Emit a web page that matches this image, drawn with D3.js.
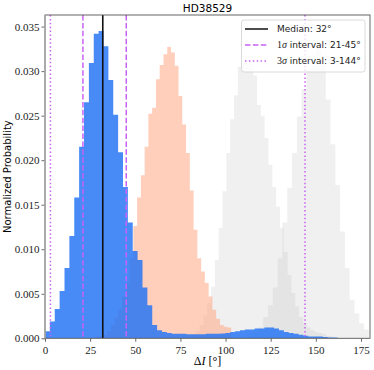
<!DOCTYPE html>
<html>
<head>
<meta charset="utf-8">
<script src="https://cdn.jsdelivr.net/npm/d3@7"></script>
<style>
  html, body { margin: 0; padding: 0; background: #fff; }
  svg { display: block; }
</style>
</head>
<body>
<svg id="chart" width="374" height="370"></svg>
<script>
// ---------------- DATA ----------------

// main posterior of ΔI - blue
const blueStart = 0;
const blueWidth = 2.7;
const blueHeights = [
  0.0008, 0.0019, 0.0033, 0.0053, 0.0079, 0.0115, 0.0158, 0.0215, 0.0265, 0.0309,
  0.0342, 0.0345, 0.0328, 0.0290, 0.0251, 0.0209, 0.0170, 0.0130, 0.0098, 0.0088,
  0.0057, 0.0037, 0.0015, 0.0009, 0.0007, 0.0006, 0.0005, 0.0005, 0.0005, 0.00045,
  0.00045, 0.00045, 0.00045, 0.0005, 0.0005, 0.0005, 0.00055, 0.0006, 0.0007, 0.0008,
  0.0009, 0.0010, 0.0010, 0.0011, 0.0011, 0.0012, 0.0012, 0.0011, 0.0009, 0.0007,
  0.0006, 0.0005, 0.0004, 0.0003, 0.0002, 0.0002, 0.0002, 0.00015, 0.0001, 0.0001
];

// second solution - salmon
const salmonStart = 26.0;
const salmonWidth = 2.085;
const salmonHeights = [
  0.0001, 0.0002, 0.0003, 0.0004, 0.00075, 0.0015, 0.0023, 0.0033, 0.0047, 0.0062,
  0.0090, 0.0126, 0.0158, 0.0183, 0.0215, 0.0252, 0.0259, 0.0291, 0.0307, 0.0319,
  0.0327, 0.0321, 0.0306, 0.0272, 0.0240, 0.0208, 0.0166, 0.0122, 0.0090, 0.0075,
  0.0062, 0.0047, 0.0032, 0.0022, 0.0015, 0.0013, 0.0012
];

// grey solutions
const greyAStart = 79.25;
const greyAWidth = 2.12;
const greyAHeights = [
  0.0002, 0.0004, 0.0008, 0.0015, 0.0026, 0.0040, 0.0058, 0.0088, 0.0124, 0.0165,
  0.0208, 0.0246, 0.0273, 0.0305, 0.0312, 0.0313, 0.0308, 0.0295, 0.0262, 0.0250,
  0.0225, 0.0195, 0.0170, 0.0148, 0.0124, 0.0097, 0.0071, 0.0051, 0.0036, 0.0024,
  0.0017, 0.0012, 0.0009, 0.0007, 0.0006, 0.0005, 0.0003, 0.0002
];

const greyBStart = 112.9;
const greyBWidth = 2.66;
const greyBHeights = [
  0.0003, 0.0006, 0.0012, 0.0024, 0.0037, 0.0057, 0.0090, 0.0130, 0.0169, 0.0208,
  0.0249, 0.0280, 0.0302, 0.0318, 0.0330, 0.0318, 0.0268, 0.0218, 0.0172, 0.0120,
  0.0079, 0.0043, 0.0028, 0.0017, 0.0010
];

// summary lines
const median = 32;
const sigma1 = [21, 45];
const sigma3 = [3, 144];

const xTicks = [0, 25, 50, 75, 100, 125, 150, 175];
const yTicks = [0, 0.005, 0.01, 0.015, 0.02, 0.025, 0.03, 0.035];

const legendLabels = ['Median: 32°', ' interval: 21-45°', ' interval: 3-144°'];
const legendSigma = ['', '1', '3'];

// ---------------- SCALES ----------------

const svg = d3.select('#chart');
const mLeft = 45, mRight = 370, mTop = 15, mBottom = 338.3;

const x = d3.scaleLinear().domain([0, 180]).range([mLeft, mRight]);
const y = d3.scaleLinear().domain([0, 0.0363]).range([mBottom, mTop]);

const serif = "'Liberation Serif', 'DejaVu Serif', serif";
const sans = "'DejaVu Sans', sans-serif";
const lineColor = '#c861f5';

svg.append('clipPath').attr('id', 'plot')
  .append('rect').attr('x', mLeft).attr('y', mTop)
  .attr('width', mRight - mLeft).attr('height', mBottom - mTop);

const g = svg.append('g').attr('clip-path', 'url(#plot)');

// histogram drawn as one stepped area, so neighbouring bins leave no seams
const stepArea = d3.area()
  .x((d) => x(d[0]))
  .y0(y(0))
  .y1((d) => y(d[1]))
  .curve(d3.curveStepAfter);

function drawHist(start, width, heights, fill, opacity) {
  const pts = heights.map((h, i) => [start + i * width, h]);
  pts.push([start + heights.length * width, heights[heights.length - 1]]);
  g.append('path')
    .datum(pts)
    .attr('d', stepArea)
    .attr('fill', fill)
    .attr('fill-opacity', opacity);
}

drawHist(greyAStart, greyAWidth, greyAHeights, '#b4b4b4', 0.2);
drawHist(greyBStart, greyBWidth, greyBHeights, '#b4b4b4', 0.2);
drawHist(salmonStart, salmonWidth, salmonHeights, '#ffa07a', 0.5);
drawHist(blueStart, blueWidth, blueHeights, 'rgb(40,118,244)', 0.85);

// vertical summary lines
function vline(v, color, dash, w) {
  g.append('line')
    .attr('x1', x(v)).attr('x2', x(v))
    .attr('y1', mTop).attr('y2', mBottom)
    .attr('stroke', color)
    .attr('stroke-width', w)
    .attr('stroke-dasharray', dash);
}

vline(median, '#111', null, 1.6);
sigma1.forEach((v) => vline(v, lineColor, '5.5,2.4', 1.5));
sigma3.forEach((v) => vline(v, lineColor, '1.5,2.4', 1.5));

// ---------------- AXES ----------------

const xAxis = svg.append('g')
  .attr('transform', `translate(0,${mBottom})`)
  .call(d3.axisBottom(x).tickValues(xTicks).tickSize(3.5).tickPadding(2).tickFormat(d3.format('d')));

const yAxis = svg.append('g')
  .attr('transform', `translate(${mLeft},0)`)
  .call(d3.axisLeft(y).tickValues(yTicks).tickSize(3.5).tickPadding(2).tickFormat(d3.format('.3f')));

[xAxis, yAxis].forEach((a) => {
  a.select('.domain').remove();
  a.selectAll('line').attr('stroke', '#444').attr('stroke-width', 0.8);
  a.selectAll('text')
    .attr('font-family', serif)
    .attr('font-size', 11)
    .attr('fill', '#222');
});
xAxis.selectAll('text').attr('dy', '0.95em');

// spines
svg.append('rect')
  .attr('x', mLeft).attr('y', mTop)
  .attr('width', mRight - mLeft).attr('height', mBottom - mTop)
  .attr('fill', 'none').attr('stroke', '#555').attr('stroke-width', 0.9);
svg.append('line')
  .attr('x1', mLeft).attr('x2', mLeft).attr('y1', mTop).attr('y2', mBottom)
  .attr('stroke', '#aaa').attr('stroke-width', 1.6);

// ---------------- TEXT ----------------

svg.append('text')
  .attr('x', (mLeft + mRight) / 2).attr('y', 12)
  .attr('text-anchor', 'middle')
  .attr('font-family', sans).attr('font-size', 10.5)
  .text('HD38529');

svg.append('text')
  .attr('transform', `translate(11,${(mTop + mBottom) / 2}) rotate(-90)`)
  .attr('text-anchor', 'middle')
  .attr('font-family', sans).attr('font-size', 10)
  .text('Normalized Probability');

const xl = svg.append('text')
  .attr('x', (mLeft + mRight) / 2).attr('y', 365)
  .attr('text-anchor', 'middle')
  .attr('font-family', serif).attr('font-size', 12);
xl.append('tspan').text('Δ');
xl.append('tspan').attr('font-style', 'italic').text('I');
xl.append('tspan').text(' [°]');

// ---------------- LEGEND ----------------

const lg = svg.append('g');
lg.append('rect')
  .attr('x', 241.5).attr('y', 20)
  .attr('width', 123.5).attr('height', 52)
  .attr('rx', 2.5)
  .attr('fill', '#fff').attr('fill-opacity', 0.8)
  .attr('stroke', '#d0d0d0').attr('stroke-width', 0.8);

const rowY = d3.scaleLinear().domain([0, 2]).range([29, 61]);
const sampleStyle = [
  { color: '#111', dash: null },
  { color: lineColor, dash: '5.5,2.4' },
  { color: lineColor, dash: '1.5,2.4' }
];

legendLabels.forEach((label, i) => {
  lg.append('line')
    .attr('x1', 245).attr('x2', 268)
    .attr('y1', rowY(i)).attr('y2', rowY(i))
    .attr('stroke', sampleStyle[i].color)
    .attr('stroke-width', 1.5)
    .attr('stroke-dasharray', sampleStyle[i].dash);
  const t = lg.append('text')
    .attr('x', 277).attr('y', rowY(i) + 3.3)
    .attr('font-family', sans).attr('font-size', 9)
    .attr('fill', '#222');
  if (legendSigma[i]) {
    t.append('tspan').attr('font-family', serif).attr('font-size', 10).text(legendSigma[i]);
    t.append('tspan').attr('font-family', serif).attr('font-style', 'italic').attr('font-size', 10).text('σ');
  }
  t.append('tspan').text(label);
});
</script>
</body>
</html>
